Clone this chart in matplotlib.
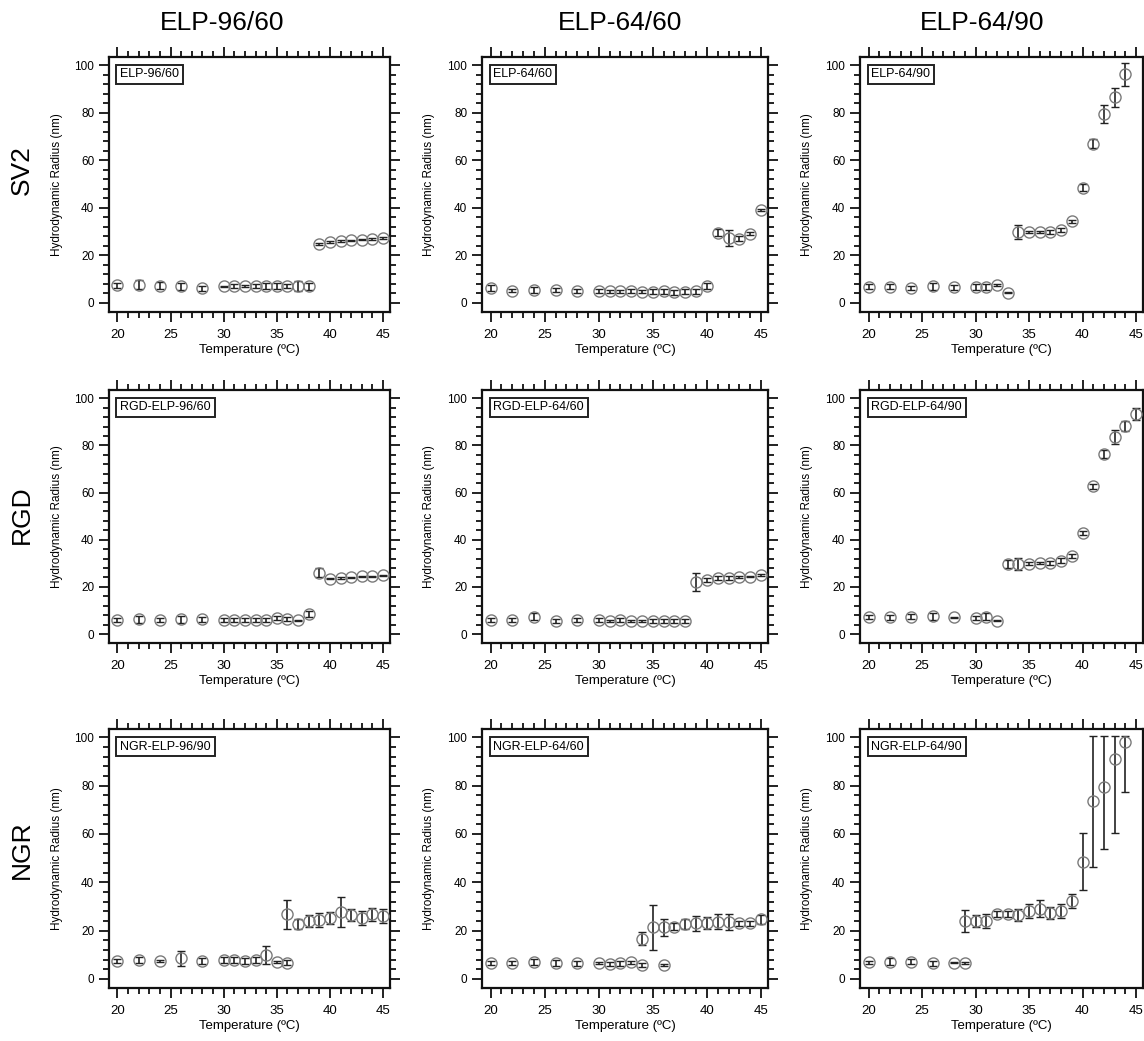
import matplotlib
matplotlib.use("Agg")
import matplotlib.pyplot as plt
from matplotlib.ticker import MultipleLocator

plt.rcParams['font.family'] = ['Liberation Sans', 'DejaVu Sans']

# ---------------- data ----------------
col_titles = ["ELP-96/60", "ELP-64/60", "ELP-64/90"]
row_titles = ["SV2", "RGD", "NGR"]
panel_labels = [["ELP-96/60", "ELP-64/60", "ELP-64/90"],
                ["RGD-ELP-96/60", "RGD-ELP-64/60", "RGD-ELP-64/90"],
                ["NGR-ELP-96/90", "NGR-ELP-64/60", "NGR-ELP-64/90"]]

T_full = [20, 22, 24, 26, 28, 30, 31, 32, 33, 34, 35, 36, 37, 38, 39, 40, 41, 42, 43, 44, 45]

# SV2 row
t_sv2_9660 = T_full
r_sv2_9660 = [7.4, 7.7, 7.3, 7.0, 6.2, 7.0, 7.1, 7.1, 7.1, 7.1, 7.1, 7.1, 7.1, 7.1,
              24.9, 25.6, 26.0, 26.3, 26.6, 26.9, 27.3]
e_sv2_9660 = [1.2, 1.8, 1.5, 1.5, 1.0, 0.3, 0.8, 0.5, 0.8, 1.2, 1.2, 1.0, 2.0, 1.5,
              0.5, 0.3, 0.3, 0.3, 0.3, 0.3, 0.3]

t_sv2_6460 = T_full
r_sv2_6460 = [6.2, 5.2, 5.6, 5.5, 4.9, 4.9, 4.9, 4.9, 4.9, 4.8, 4.8, 4.9, 4.5, 4.7,
              4.9, 7.0, 29.5, 27.4, 27.1, 29.2, 39.2]
e_sv2_6460 = [1.3, 0.5, 1.2, 1.0, 0.8, 0.8, 0.5, 0.5, 0.8, 0.8, 1.0, 1.0, 1.0, 1.0,
              1.0, 1.2, 1.5, 3.5, 1.0, 0.5, 0.5]

t_sv2_6490 = [20, 22, 24, 26, 28, 30, 31, 32, 33, 34, 35, 36, 37, 38, 39, 40, 41, 42, 43, 44]
r_sv2_6490 = [6.9, 6.9, 6.3, 7.0, 6.6, 6.6, 6.6, 7.6, 4.3, 29.7, 29.9, 29.9, 29.9, 30.6,
              34.3, 48.5, 67.0, 79.4, 86.5, 96.2]
e_sv2_6490 = [1.0, 1.2, 1.0, 1.5, 1.0, 1.2, 1.2, 0.5, 0.3, 2.9, 0.5, 0.5, 0.8, 0.8,
              0.8, 1.5, 1.8, 3.7, 4.0, 4.7]

# RGD row
t_rgd_9660 = T_full
r_rgd_9660 = [6.1, 6.3, 6.1, 6.3, 6.3, 5.8, 5.8, 6.1, 6.1, 6.1, 6.8, 6.4, 5.8, 8.6,
              26.0, 23.5, 23.8, 24.0, 24.5, 24.5, 24.9]
e_rgd_9660 = [0.8, 1.5, 0.8, 1.5, 1.0, 0.8, 0.8, 0.8, 0.8, 0.8, 0.8, 0.8, 0.3, 1.2,
              1.8, 0.3, 0.3, 0.3, 0.3, 0.3, 0.3]

t_rgd_6460 = T_full
r_rgd_6460 = [5.9, 6.0, 7.3, 5.6, 6.0, 5.9, 5.5, 5.8, 5.5, 5.5, 5.6, 5.6, 5.6, 5.6,
              22.0, 22.8, 23.7, 23.7, 24.1, 24.4, 25.0]
e_rgd_6460 = [0.8, 0.8, 1.5, 0.8, 1.0, 1.0, 0.5, 0.8, 0.5, 0.5, 0.8, 0.8, 0.8, 0.8,
              3.7, 0.8, 0.8, 0.8, 0.5, 0.3, 0.5]

t_rgd_6490 = T_full
r_rgd_6490 = [7.2, 7.1, 7.4, 7.5, 7.1, 6.8, 7.4, 5.7, 29.7, 29.7, 29.9, 30.1, 30.1, 31.1,
              33.1, 42.8, 62.6, 76.4, 83.6, 88.2, 93.3]
e_rgd_6490 = [0.8, 1.0, 1.0, 1.5, 0.3, 0.8, 1.5, 0.3, 1.8, 2.5, 0.5, 0.5, 0.8, 1.0,
              0.8, 1.0, 1.2, 1.8, 3.0, 2.3, 2.5]

# NGR row
t_ngr_9690 = [20, 22, 24, 26, 28, 30, 31, 32, 33, 34, 35, 36,
              36, 37, 38, 39, 40, 41, 42, 43, 44, 45]
r_ngr_9690 = [7.4, 7.7, 7.4, 8.6, 7.4, 7.7, 7.7, 7.4, 7.7, 10.0, 7.0, 6.7,
              26.7, 22.7, 24.0, 24.4, 25.1, 27.6, 26.5, 25.3, 26.7, 26.0]
e_ngr_9690 = [1.0, 1.3, 0.6, 3.1, 1.2, 1.2, 1.2, 1.2, 1.2, 3.8, 0.5, 1.0,
              5.9, 2.0, 2.5, 3.0, 2.5, 6.1, 2.5, 3.0, 2.8, 3.0]

t_ngr_6460 = [20, 22, 24, 26, 28, 30, 31, 32, 33, 34, 36,
              34, 35, 36, 37, 38, 39, 40, 41, 42, 43, 44, 45]
r_ngr_6460 = [6.7, 6.7, 7.0, 6.5, 6.4, 6.5, 6.3, 6.5, 6.8, 5.6, 5.8,
              16.7, 21.3, 21.3, 21.6, 22.7, 23.0, 23.0, 23.7, 23.7, 23.0, 23.0, 24.6]
e_ngr_6460 = [0.8, 0.8, 1.3, 1.3, 1.0, 0.3, 0.8, 1.0, 0.5, 0.8, 0.3,
              2.8, 9.4, 3.5, 1.5, 2.0, 3.0, 2.5, 3.0, 3.3, 1.0, 1.0, 2.0]

t_ngr_6490 = [20, 22, 24, 26, 28, 29,
              29, 30, 31, 32, 33, 34, 35, 36, 37, 38, 39, 40, 41, 42, 43, 44]
r_ngr_6490 = [6.8, 7.1, 7.1, 6.5, 6.7, 6.5,
              24.0, 24.0, 24.0, 26.7, 26.7, 26.6, 28.0, 29.0, 27.3, 28.1, 32.2, 48.6,
              73.7, 79.5, 91.1, 98.0]
e_ngr_6490_lo = [0.5, 1.5, 1.0, 1.0, 0.3, 0.5,
                 4.6, 2.5, 3.0, 1.2, 1.2, 2.5, 3.0, 3.5, 2.5, 3.0, 3.0, 11.9,
                 27.3, 25.9, 30.7, 20.8]
e_ngr_6490_hi = [0.5, 1.5, 1.0, 1.0, 0.3, 0.5,
                 4.6, 2.5, 3.0, 1.2, 1.2, 2.5, 3.0, 3.5, 2.5, 3.0, 3.0, 11.9,
                 27.0, 21.2, 9.6, 2.7]

panels = [
    [(t_sv2_9660, r_sv2_9660, e_sv2_9660),
     (t_sv2_6460, r_sv2_6460, e_sv2_6460),
     (t_sv2_6490, r_sv2_6490, e_sv2_6490)],
    [(t_rgd_9660, r_rgd_9660, e_rgd_9660),
     (t_rgd_6460, r_rgd_6460, e_rgd_6460),
     (t_rgd_6490, r_rgd_6490, e_rgd_6490)],
    [(t_ngr_9690, r_ngr_9690, e_ngr_9690),
     (t_ngr_6460, r_ngr_6460, e_ngr_6460),
     (t_ngr_6490, r_ngr_6490, [e_ngr_6490_lo, e_ngr_6490_hi])],
]

# ---------------- layout ----------------
W, H = 1144, 1041
fig = plt.figure(figsize=(W / 100, H / 100), dpi=100)

col_px = [(109, 390), (482, 768), (860, 1143)]
row_px = [(57, 312), (390, 643), (729, 988)]
col_title_x = [222, 620, 982]
row_title_y = [170, 515, 850]

for i, (yt, yb) in enumerate(row_px):
    for j, (xl, xr) in enumerate(col_px):
        ax = fig.add_axes([xl / W, 1 - yb / H, (xr - xl) / W, (yb - yt) / H])
        t, r, e = panels[i][j]
        ax.errorbar(t, r, yerr=e, fmt='o', ms=8, mfc='none', mec='#7a7a7a',
                    mew=1.0, ecolor='#222222', elinewidth=1.2, capsize=2.6,
                    capthick=1.2, zorder=3)
        ax.set_xlim(19.2, 45.65)
        ax.set_ylim(-3.8, 103.5)
        ax.xaxis.set_major_locator(MultipleLocator(5))
        ax.xaxis.set_minor_locator(MultipleLocator(1))
        ax.yaxis.set_major_locator(MultipleLocator(20))
        ax.yaxis.set_minor_locator(MultipleLocator(4))
        ax.tick_params(which='both', direction='out', top=True, right=True,
                       width=1.3, color='#111111')
        ax.tick_params(which='major', length=7.5)
        ax.tick_params(which='minor', length=4)
        ax.tick_params(axis='x', labelsize=9.5, pad=5)
        ax.tick_params(axis='y', labelsize=8.5, pad=3)
        for s in ax.spines.values():
            s.set_linewidth(1.6)
            s.set_color('#111111')
        ax.set_xlabel("Temperature (ºC)", fontsize=9.5, labelpad=2)
        ax.set_ylabel("Hydrodynamic Radius (nm)", fontsize=8.5)
        ax.yaxis.set_label_coords(-0.165, 0.5)
        ax.text(0.04, 0.955, panel_labels[i][j], transform=ax.transAxes,
                fontsize=9, ha='left', va='top',
                bbox=dict(boxstyle='square,pad=0.3', fc='white', ec='#222222', lw=1.4))

for j, txt in enumerate(col_titles):
    fig.text(col_title_x[j] / W, 1 - 23 / H, txt, fontsize=19, ha='center', va='center')
for i, txt in enumerate(row_titles):
    fig.text(22 / W, 1 - row_title_y[i] / H, txt, fontsize=19, ha='center',
             va='center', rotation=90)

fig.savefig("out.png", dpi=100)
